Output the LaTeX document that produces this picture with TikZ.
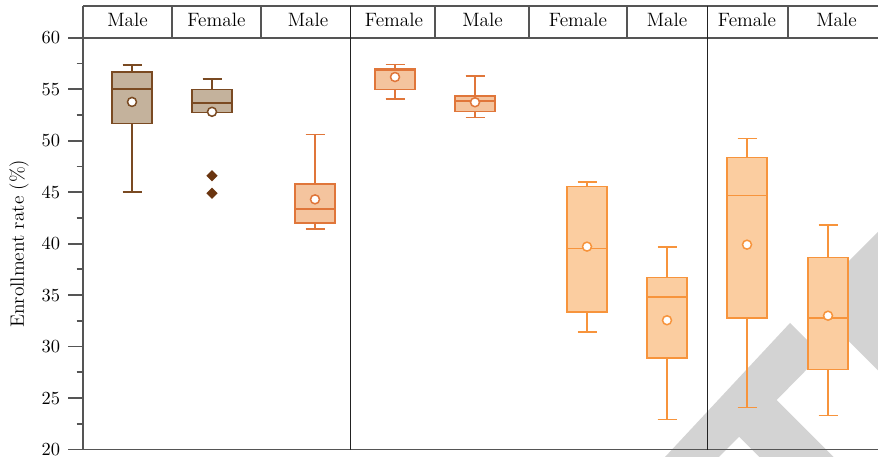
\documentclass[tikz,border=0pt]{standalone}
\usepackage{fontspec}
\usepackage{tikz}
\usetikzlibrary{shapes.geometric}
\definecolor{axisgray}{HTML}{555555}
\definecolor{panelline}{HTML}{222222}
\definecolor{brownline}{HTML}{7A4A22}
\definecolor{brownfill}{HTML}{C4B29C}
\definecolor{darkbrown}{HTML}{6A3510}
\definecolor{darkorange}{HTML}{E0763A}
\definecolor{darkorangefill}{HTML}{F4C49E}
\definecolor{lightorange}{HTML}{F7943C}
\definecolor{lightorangefill}{HTML}{FBCDA0}
\definecolor{markgray}{HTML}{D3D3D3}
\newcommand{\BoxPlot}[8]{%
    \draw[#8] (#1,#6) -- (#1,#5) (#1,#3) -- (#1,#2)
    (#1-9.5,#6) -- (#1+9.5,#6) (#1-9.5,#2) -- (#1+9.5,#2);
    \filldraw[#8] (#1-20,#5) rectangle (#1+20,#3);
    \draw[#8] (#1-20,#4) -- (#1+20,#4);
    \filldraw[#8, fill=white] (#1,#7) circle (0.09cm);
}

\begin{document}
\begin{tikzpicture}[x=0.02cm, y=0.206cm, font=\fontsize{11}{13}\selectfont,
    axis/.style={draw=axisgray, line width=1pt},
    panel/.style={draw=panelline, line width=0.75pt},
    brownbox/.style={draw=brownline, fill=brownfill, line width=0.85pt},
    darkbox/.style={draw=darkorange, fill=darkorangefill, line width=0.85pt},
    lightbox/.style={draw=lightorange, fill=lightorangefill, line width=0.85pt},
    outlier/.style={diamond, fill=darkbrown, inner sep=0pt, minimum width=0.23cm, minimum height=0.23cm}]

    \useasboundingbox (0,19.29) rectangle (878,63.66);

    \begin{scope}[yshift=13.114cm, y=-0.02cm]
    \clip (0,0) rectangle (878,457);
    \fill[markgray] (652.9,470) -- (790,323) -- (821.5,354.5) -- (776.7,400)
    -- (846.7,470) -- (772.3,470) -- (739.2,436.8) -- (706,470) -- cycle;
    \fill[markgray] (830,280) -- (900,210) -- (900,392.3) -- (830,322.3) -- cycle;
    \end{scope}

    \draw[axis] (83,63.08) -- (878,63.08);
    \draw[axis] (68,60) -- (878,60);
    \draw[axis] (83,20) -- (878,20);
    \draw[axis] (83,20) -- (83,63.08);
    \draw[axis] (172,60) -- (172,63.08) (261,60) -- (261,63.08)
    (435,60) -- (435,63.08) (529,60) -- (529,63.08)
    (627,60) -- (627,63.08) (788,60) -- (788,63.08);
    \draw[panel] (350.7,20) -- (350.7,63.08);
    \draw[panel] (707.3,20) -- (707.3,63.08);

    \foreach \v in {20,25,...,60} {
        \draw[axis] (68,\v) -- (83,\v);
        \draw (60.5,\v) node[anchor=east, inner sep=0pt, font=\fontsize{10.5}{12}\selectfont] (t\v) {\v};
    }
    \foreach \v in {22.5,27.5,...,57.5}
        \draw[axis] (76.7,\v) -- (83,\v);

    \draw (19,40) node[rotate=90] (ylab) {Enrollment rate (\%)};

    \draw (127.5,61.7) node (h1) {Male};
    \draw (216.5,61.7) node (h2) {Female};
    \draw (308,61.7) node (h3) {Male};
    \draw (394,61.7) node (h4) {Female};
    \draw (482.5,61.7) node (h5) {Male};
    \draw (578,61.7) node (h6) {Female};
    \draw (667,61.7) node (h7) {Male};
    \draw (747,61.7) node (h8) {Female};
    \draw (836.5,61.7) node (h9) {Male};

    \BoxPlot{132}{57.35}{56.67}{55.0}{51.65}{45.0}{53.76}{brownbox}
    \BoxPlot{212}{56.0}{54.95}{53.66}{52.72}{52.72}{52.8}{brownbox}
    \node[outlier] (o1) at (212,46.6) {};
    \node[outlier] (o2) at (212,44.9) {};
    \BoxPlot{315}{50.62}{45.77}{43.34}{42.0}{41.4}{44.3}{darkbox}
    \BoxPlot{395}{57.4}{56.96}{56.8}{54.95}{54.05}{56.18}{darkbox}
    \BoxPlot{475}{56.28}{54.34}{53.85}{52.85}{52.27}{53.73}{darkbox}
    \BoxPlot{587}{46.0}{45.53}{39.52}{33.37}{31.4}{39.71}{lightbox}
    \BoxPlot{667}{39.65}{36.7}{34.8}{28.9}{22.9}{32.56}{lightbox}
    \BoxPlot{747}{50.2}{48.35}{44.66}{32.79}{24.08}{39.9}{lightbox}
    \BoxPlot{828}{41.79}{38.64}{32.76}{27.8}{23.3}{33.0}{lightbox}

\end{tikzpicture}
\end{document}
